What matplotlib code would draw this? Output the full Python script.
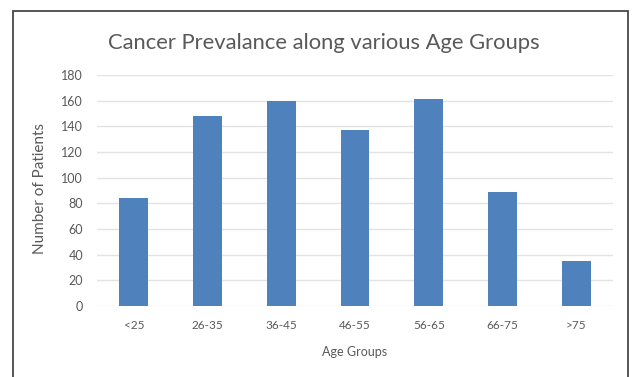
import matplotlib
matplotlib.use("Agg")
import matplotlib.pyplot as plt
from matplotlib.patches import Rectangle

age_groups = ["<25", "26-35", "36-45", "46-55", "56-65", "66-75", ">75"]
patients = [84, 148, 160, 137, 161, 89, 35]
y_ticks = [0, 20, 40, 60, 80, 100, 120, 140, 160, 180]

plt.rcParams["font.family"] = ["Lato", "DejaVu Sans"]
text_grey = "#595959"

fig = plt.figure(figsize=(6.34, 3.77), dpi=100)
ax = fig.add_axes([0.153, 0.188, 0.814, 0.613])

# chart border, open at the bottom edge
fig.patches.append(Rectangle((0.021, -0.1), 0.969, 1.071, transform=fig.transFigure,
                             fill=False, edgecolor="#3a3a3a", linewidth=1.2))

x = range(len(age_groups))
ax.bar(x, patients, width=0.39, color="#4F81BD", zorder=3)

ax.set_ylim(0, 180)
ax.set_xlim(-0.5, len(age_groups) - 0.5)
ax.set_yticks(y_ticks)
ax.set_xticks(list(x))
ax.set_xticklabels(age_groups)
ax.grid(axis="y", color="#E3E3E3", linewidth=1, zorder=0)
for s in ax.spines.values():
    s.set_visible(False)
ax.tick_params(length=0, colors=text_grey)
ax.tick_params(axis="y", pad=10, labelsize=9)
ax.tick_params(axis="x", pad=10, labelsize=8.5)

ax.set_xlabel("Age Groups", fontsize=9, color=text_grey, labelpad=11)
ax.set_ylabel("Number of Patients", fontsize=11, color=text_grey)
ax.yaxis.set_label_coords(-0.097, 0.51)
fig.text(0.51, 0.885, "Cancer Prevalance along various Age Groups", ha="center",
         va="center", fontsize=15.8, color=text_grey)

fig.savefig("out.png", dpi=100)
